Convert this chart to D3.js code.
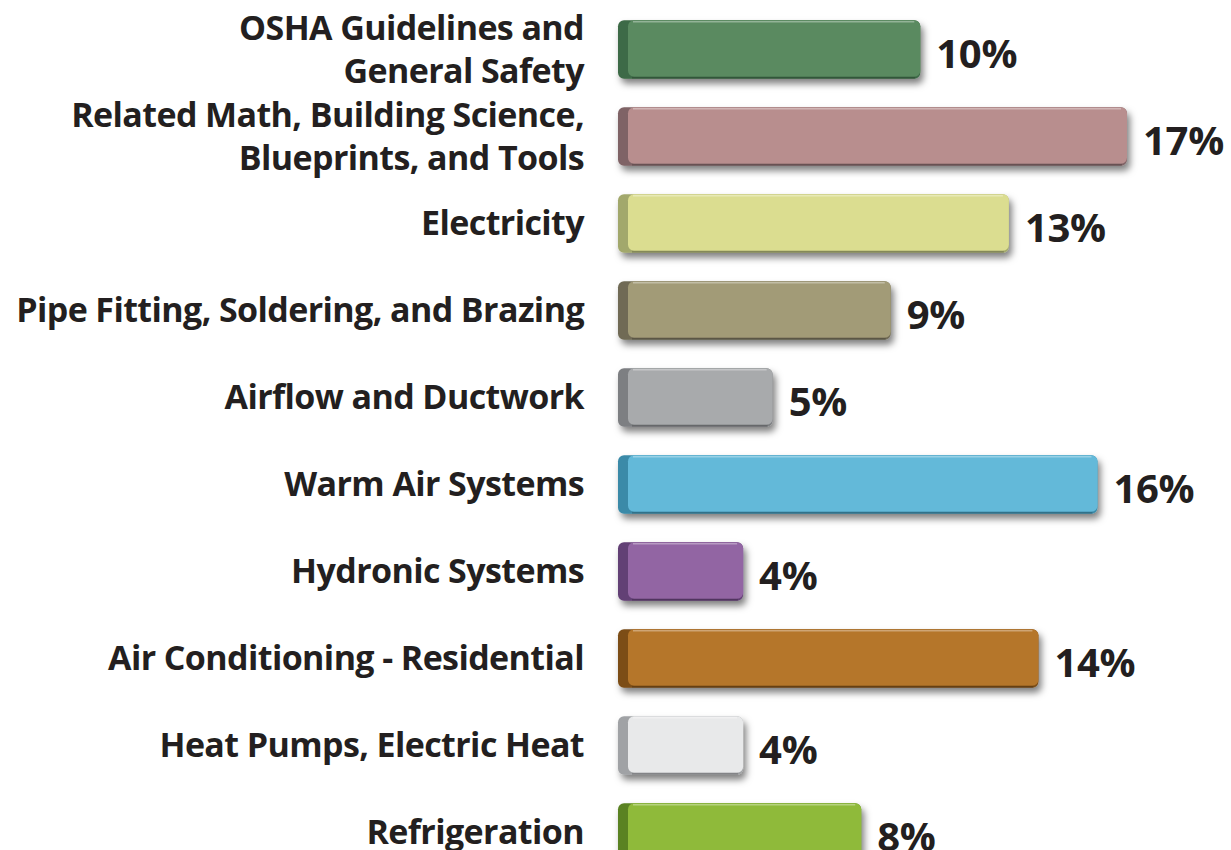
<!DOCTYPE html>
<html>
<head>
<meta charset="utf-8">
<script src="https://cdn.jsdelivr.net/npm/d3@7"></script>
<style>
  html, body { margin: 0; padding: 0; background: #fff; }
  svg { display: block; }
</style>
</head>
<body>
<div id="main"></div>
<script>
const W = 1231;
const H = 850;

// data
var categories = [
    ["OSHA Guidelines and", "General Safety"],
    ["Related Math, Building Science,", "Blueprints, and Tools"],
    ["Electricity"],
    ["Pipe Fitting, Soldering, and Brazing"],
    ["Airflow and Ductwork"],
    ["Warm Air Systems"],
    ["Hydronic Systems"],
    ["Air Conditioning - Residential"],
    ["Heat Pumps, Electric Heat"],
    ["Refrigeration"]
];
var values = [10, 17, 13, 9, 5, 16, 4, 14, 4, 8];
var fills = ["#5a8a60", "#b88e8e", "#dbdd90", "#a29b77", "#a8aaac",
             "#63b9d9", "#9265a3", "#b5762a", "#e8e9ea", "#8fba3a"];
var edges = ["#3d6a46", "#7f6366", "#a2a86c", "#6f6b55", "#7d7f82",
             "#3b8aa8", "#623f74", "#7b4d17", "#a0a2a5", "#5a8224"];

var createViz = function(){
    var svg = d3.select("#main").append("svg")
                .attr("width", W)
                .attr("height", H);

    var defs = svg.append("defs");
    var f = defs.append("filter").attr("id", "shadow")
                .attr("x", "-10%").attr("y", "-30%")
                .attr("width", "130%").attr("height", "180%");
    f.append("feDropShadow")
     .attr("dx", 3).attr("dy", 5)
     .attr("stdDeviation", 3.5)
     .attr("flood-color", "#000")
     .attr("flood-opacity", 0.5);

    var y = d3.scaleBand()
              .domain(d3.range(values.length))
              .range([6, 6 + 87 * values.length])
              .paddingInner(0.33)
              .paddingOuter(0.165);

    var x = d3.scaleLinear().domain([0, 17]).range([625, 1127]);
    var x0 = 618;

    var row = svg.selectAll("g.row")
                 .data(values)
                 .enter()
                 .append("g")
                 .attr("class", "row")
                 .attr("transform", function(d, i){ return "translate(0," + y(i) + ")"; });

    var bh = y.bandwidth();

    // dark base (left edge)
    row.append("rect")
       .attr("x", x0)
       .attr("y", 0)
       .attr("width", function(d){ return x(d) - x0; })
       .attr("height", bh)
       .attr("rx", 6)
       .attr("fill", function(d, i){ return edges[i]; })
       .attr("filter", "url(#shadow)");

    // main face
    row.append("rect")
       .attr("x", x0 + 10)
       .attr("y", 0)
       .attr("width", function(d){ return x(d) - x0 - 10; })
       .attr("height", bh - 2)
       .attr("rx", 6)
       .attr("fill", function(d, i){ return fills[i]; });

    // subtle top highlight
    row.append("line")
       .attr("x1", x0 + 15)
       .attr("x2", function(d){ return x(d) - 6; })
       .attr("y1", 1.5)
       .attr("y2", 1.5)
       .attr("stroke", "#fff")
       .attr("stroke-opacity", 0.35)
       .attr("stroke-width", 1.5);

    // bottom edge
    row.append("line")
       .attr("x1", x0 + 14)
       .attr("x2", function(d){ return x(d) - 5; })
       .attr("y1", bh - 1)
       .attr("y2", bh - 1)
       .attr("stroke", "#000")
       .attr("stroke-opacity", 0.18)
       .attr("stroke-width", 2);

    // value labels
    row.append("text")
       .attr("x", function(d){ return x(d) + 16; })
       .attr("y", bh / 2 + 19)
       .attr("font-family", "'Open Sans', sans-serif")
       .attr("font-weight", 700)
       .attr("font-size", 40)
       .attr("fill", "#231f20")
       .attr("letter-spacing", -0.3)
       .text(function(d){ return d + "%"; });

    // category labels
    row.each(function(d, i){
        var lines = categories[i];
        var t = d3.select(this).append("text")
                  .attr("text-anchor", "end")
                  .attr("font-family", "'Open Sans', sans-serif")
                  .attr("font-weight", 700)
                  .attr("font-size", 34)
                  .attr("letter-spacing", -0.6)
                  .attr("fill", "#231f20");
        var lh = 44;
        var start = bh / 2 + 12 - (lines.length - 1) * lh / 2;
        lines.forEach(function(s, k){
            t.append("tspan")
             .attr("x", 584)
             .attr("y", start + k * lh)
             .text(s);
        });
    });
};

createViz();
</script>
</body>
</html>
